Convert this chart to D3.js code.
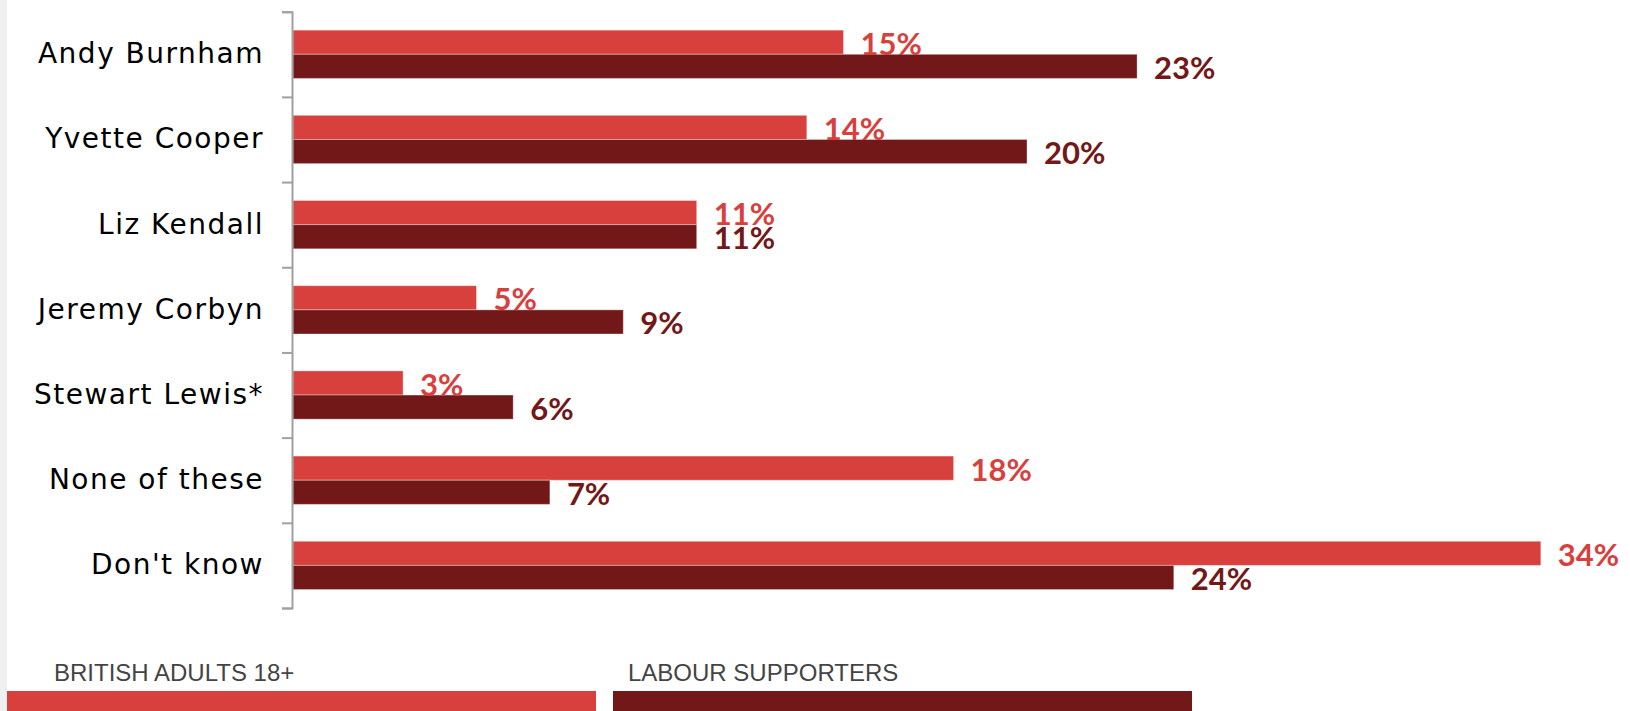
<!DOCTYPE html>
<html>
<head>
<meta charset="utf-8">
<script src="https://cdn.jsdelivr.net/npm/d3@7"></script>
<style>
  body { margin: 0; background: #fff; overflow: hidden; }
</style>
</head>
<body>
<div id="chart"></div>
<script>
var candidates = ["Andy Burnham", "Yvette Cooper", "Liz Kendall", "Jeremy Corbyn", "Stewart Lewis*", "None of these", "Don't know"];
var seriesNames = ["BRITISH ADULTS 18+", "LABOUR SUPPORTERS"];
var britishAdults = [15, 14, 11, 5, 3, 18, 34];
var labourSupporters = [23, 20, 11, 9, 6, 7, 24];
var colors = ["#d8403e", "#721818"];

var W = 1630, H = 711;
var svg = d3.select("#chart").append("svg")
    .attr("width", W)
    .attr("height", H);

// grey strip on the left edge
svg.append("rect").attr("x", 0).attr("y", 0).attr("width", 7).attr("height", H).attr("fill", "#f0f0f0");

var x = d3.scaleLinear().domain([0, 36]).range([293, 293 + 36.7 * 36]);
var y = d3.scaleBand().domain(candidates).range([11.7, 608]);
var ySub = d3.scaleBand().domain([0, 1]).range([0, y.bandwidth()]).paddingOuter(0.764);
var yTicks = d3.scaleLinear().domain([0, candidates.length]).range([11.7, 608]);

var rows = candidates.map(function(c, i) {
    return {name: c, vals: [britishAdults[i], labourSupporters[i]]};
});

var g = svg.selectAll("g.row").data(rows)
    .enter().append("g")
    .attr("class", "row")
    .attr("transform", function(d) { return "translate(0," + y(d.name) + ")"; });

g.selectAll("rect").data(function(d) { return d.vals; })
    .enter().append("rect")
    .attr("x", x(0))
    .attr("y", function(d, i) { return ySub(i); })
    .attr("width", function(d) { return x(d) - x(0); })
    .attr("height", ySub.bandwidth())
    .attr("fill", function(d, i) { return colors[i]; })
    .attr("stroke", "rgba(255,255,255,0.35)")
    .attr("stroke-width", 1);

g.selectAll("text.val").data(function(d) { return d.vals.map(function(v, i) { return {v: v, i: i}; }); })
    .enter().append("text")
    .attr("class", "val")
    .attr("x", function(d) { return x(d.v) + 17; })
    .attr("y", function(d) { return ySub(d.i) + ySub.bandwidth() + 0.5; })
    .attr("fill", function(d) { return colors[d.i]; })
    .style("font-family", "Lato, sans-serif")
    .style("font-weight", "bold")
    .style("font-size", "31px")
    .text(function(d) { return d.v + "%"; });

// category labels
var labelAxis = d3.axisLeft(y).tickSize(0).tickPadding(28);
var la = svg.append("g").attr("transform", "translate(292,0)").call(labelAxis);
la.select(".domain").remove();
la.selectAll("text")
    .attr("fill", "#000")
    .style("font-family", "'DejaVu Sans', sans-serif")
    .style("font-size", "28px")
    .style("letter-spacing", "1.5px");

// axis line with ticks between bands
var tickAxis = d3.axisLeft(yTicks).ticks(candidates.length).tickSize(10).tickSizeOuter(10).tickFormat("");
var ta = svg.append("g").attr("transform", "translate(292,0)").call(tickAxis);
ta.selectAll("path, line").attr("stroke", "#a0a0a0").attr("stroke-width", 2);

// legend
var legX = [7, 613], legW = [589, 579], legTextX = [54, 628];
seriesNames.forEach(function(s, i) {
    svg.append("rect")
        .attr("x", legX[i]).attr("y", 691)
        .attr("width", legW[i]).attr("height", 30)
        .attr("fill", colors[i]);
    svg.append("text")
        .attr("x", legTextX[i])
        .attr("y", 681)
        .attr("fill", "#444")
        .style("font-family", "'Liberation Sans', Arial, sans-serif")
        .style("font-size", "24px")
        .text(s);
});
</script>
</body>
</html>
